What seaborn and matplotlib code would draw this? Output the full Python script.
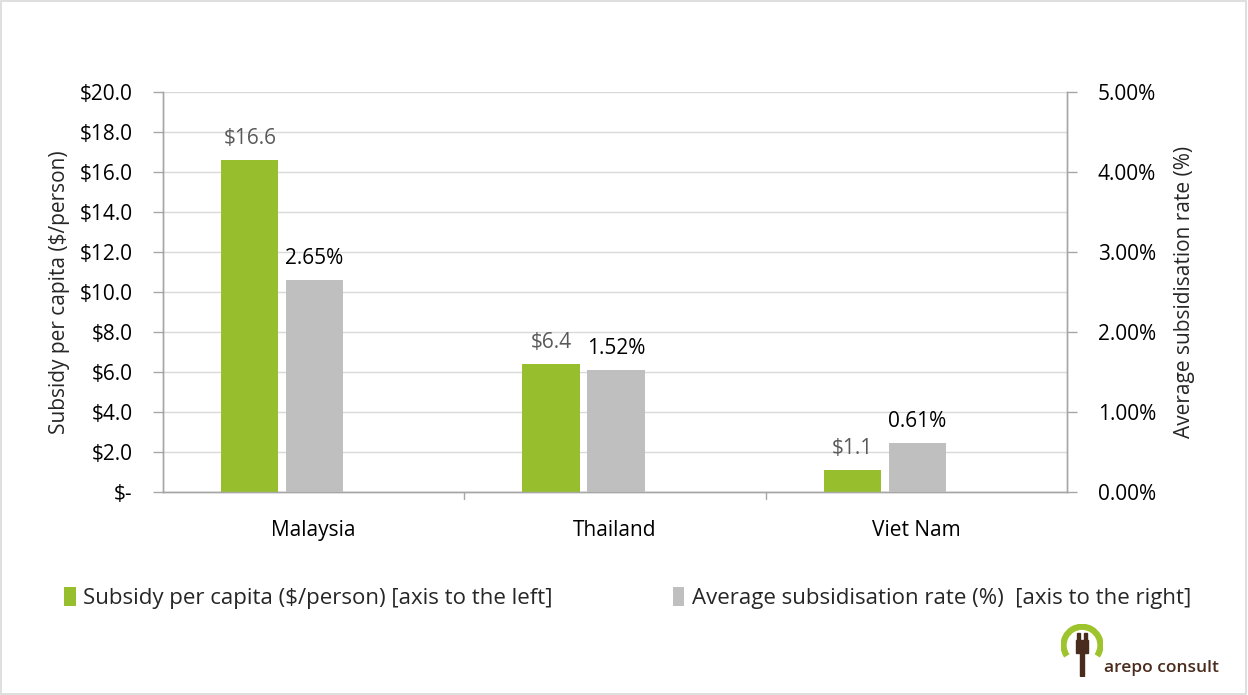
import matplotlib
matplotlib.use("Agg")
import matplotlib.pyplot as plt
from matplotlib.patches import Rectangle, Arc, Patch
from matplotlib.ticker import FuncFormatter, MultipleLocator
import seaborn as sns
import pandas as pd

countries = ["Malaysia", "Thailand", "Viet Nam"]
subsidy_per_capita = [16.6, 6.4, 1.1]          # $/person, left axis
subsidisation_rate = [2.65, 1.52, 0.61]        # %, right axis

subsidy_labels = ["$16.6", "$6.4", "$1.1"]
rate_labels = ["2.65%", "1.52%", "0.61%"]

left_ticks = [0, 2, 4, 6, 8, 10, 12, 14, 16, 18, 20]

series_names = ["Subsidy per capita ($/person) [axis to the left]",
                "Average subsidisation rate (%)  [axis to the right]"]

GREEN = "#96BE2D"
GREY = "#BFBFBF"
AXIS = "#A6A6A6"
GRID = "#D9D9D9"
FONT = "Open Sans"
FS = 15

sns.set_theme(style="white")
plt.rcParams["font.family"] = [FONT, "DejaVu Sans"]

fig = plt.figure(figsize=(12.48, 6.95), dpi=100)
ax = fig.add_axes([0.1306, 0.2921, 0.8550 - 0.1306, 0.8676 - 0.2921])
ax2 = ax.twinx()

df = pd.DataFrame({"country": countries,
                   "subsidy": subsidy_per_capita,
                   "rate": subsidisation_rate})

bar_w = 0.19
sns.barplot(data=df, x="country", y="subsidy", ax=ax, color=GREEN,
            width=bar_w, saturation=1, errorbar=None, zorder=3)
sns.barplot(data=df, x="country", y="rate", ax=ax2, color=GREY,
            width=bar_w, saturation=1, errorbar=None, zorder=3)

# the subsidy bars sit to the left of each category centre
for p in ax.patches:
    p.set_x(p.get_x() - 0.212)
    p.set_edgecolor("none")
for p in ax2.patches:
    p.set_x(p.get_x() + 0.003)
    p.set_edgecolor("none")

ax.set_xlim(-0.5, 2.5)
ax.set_ylim(0, 20)
ax2.set_ylim(0, 5)

# value labels
for p, lab in zip(ax.patches, subsidy_labels):
    ax.annotate(lab, (p.get_x() + p.get_width() / 2, p.get_height()),
                xytext=(0, 8), textcoords="offset points", ha="center",
                va="bottom", fontsize=FS, color="#595959")
for p, lab in zip(ax2.patches, rate_labels):
    ax2.annotate(lab, (p.get_x() + p.get_width() / 2, p.get_height()),
                 xytext=(0, 8), textcoords="offset points", ha="center",
                 va="bottom", fontsize=FS, color="#000000")

# left axis
ax.yaxis.set_major_locator(plt.FixedLocator(left_ticks))
ax.yaxis.set_major_formatter(FuncFormatter(
    lambda v, _: "$-" if v == 0 else f"${v:.1f}"))
ax.grid(axis="y", color=GRID, linewidth=1, zorder=0)
ax.set_axisbelow(True)
ax.tick_params(axis="y", which="major", length=7, width=1, color=AXIS,
               labelsize=FS, labelcolor="#000000", pad=15, left=True)
ax.set_ylabel("Subsidy per capita ($/person)", fontsize=FS, labelpad=7)

# right axis
ax2.yaxis.set_major_locator(MultipleLocator(1))
ax2.yaxis.set_major_formatter(FuncFormatter(lambda v, _: f"{v:.2f}%"))
ax2.tick_params(axis="y", which="major", length=7, width=1, color=AXIS,
                labelsize=FS, labelcolor="#000000", pad=15, right=True)
ax2.set_ylabel("Average subsidisation rate (%)", fontsize=FS, labelpad=13)
ax2.grid(False)

# category axis
ax.set_xlabel("")
ax.set_xticks([0, 1, 2])
ax.set_xticklabels(countries)
ax.tick_params(axis="x", length=0, labelsize=FS, pad=20, labelcolor="#000000")
for b in [0.5, 1.5]:
    ax.plot([b, b], [0, -0.35], color=AXIS, lw=1, clip_on=False,
            transform=ax.transData)
ax.spines["top"].set_visible(False)
ax2.spines["top"].set_visible(False)
for a in (ax, ax2):
    for side in ["left", "right", "bottom"]:
        a.spines[side].set_color(AXIS)
        a.spines[side].set_linewidth(1)

# legend
handles = [Patch(facecolor=GREEN, edgecolor="none"),
           Patch(facecolor=GREY, edgecolor="none")]
fig.legend(handles, series_names, loc="center", ncol=2,
           bbox_to_anchor=(0.503, 0.14), frameon=False, fontsize=16,
           handlelength=0.52, handleheight=0.95, handletextpad=0.35,
           columnspacing=5.4)

# logo
logo_brown = "#4A2C1E"
fig.text(0.885, 0.033, "arepo consult", fontsize=12.5, color=logo_brown,
         ha="left", va="baseline", fontweight="semibold")
lax = fig.add_axes([0.849, 0.026, 0.036, 0.076])
lax.set_xlim(-1, 1)
lax.set_ylim(-1.3, 1.2)
lax.set_aspect("equal")
lax.axis("off")
lax.add_patch(Arc((0, 0.2), 1.75, 1.75, theta1=-35, theta2=215,
                  color="#9DC32D", lw=4.5))
lax.add_patch(Rectangle((-0.27, -0.15), 0.54, 0.6, color=logo_brown))
lax.add_patch(Rectangle((-0.22, 0.45), 0.12, 0.35, color=logo_brown))
lax.add_patch(Rectangle((0.10, 0.45), 0.12, 0.35, color=logo_brown))
lax.add_patch(Rectangle((-0.08, -1.25), 0.16, 1.1, color=logo_brown))

# outer frame
fig.patches.append(Rectangle((0.001, 0.001), 0.997, 0.997,
                             transform=fig.transFigure, fill=False,
                             edgecolor="#D9D9D9", linewidth=1.2))

fig.savefig("out.png", dpi=100)
